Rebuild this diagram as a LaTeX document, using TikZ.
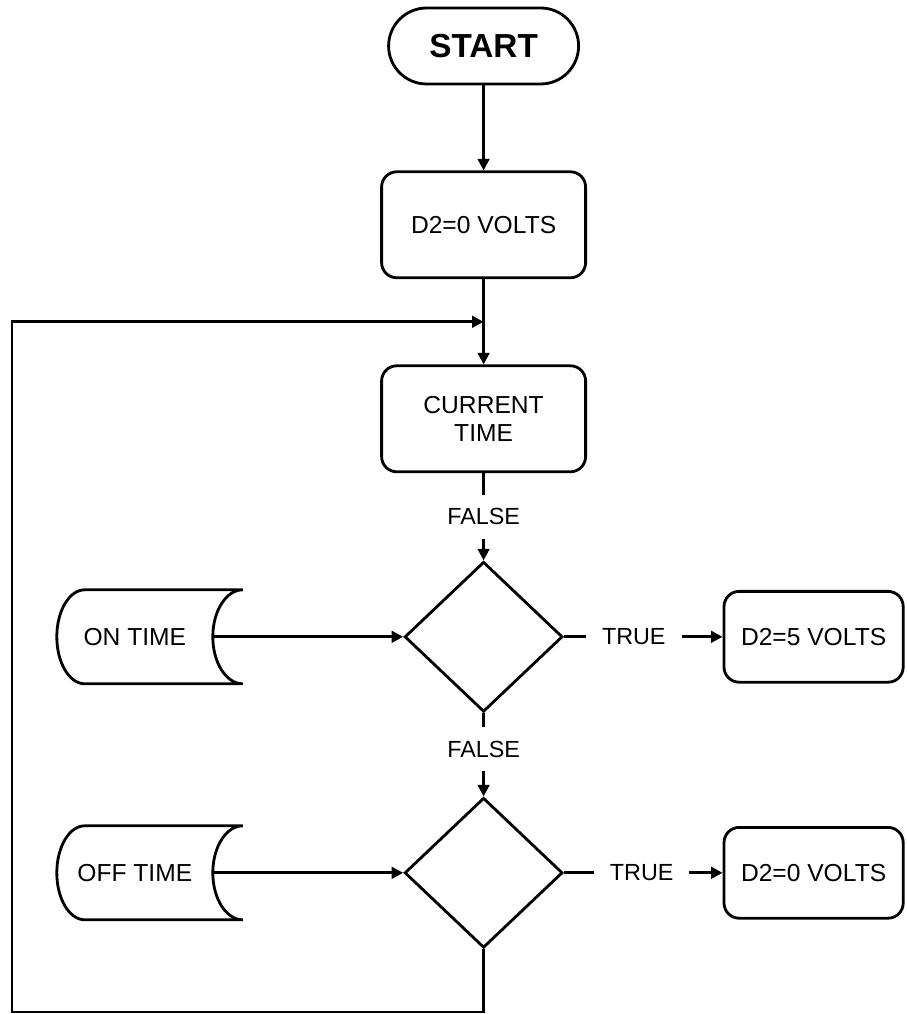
\documentclass[tikz,border=0pt]{standalone}
\usepackage{fontspec}
\setmainfont{Liberation Sans}
\usepackage{tikz}
\usetikzlibrary{arrows.meta,positioning,shapes.geometric,calc}

\tikzset{
  terminal/.style={draw, rounded corners=0.95cm, minimum width=4.75cm, minimum height=1.9cm,
    font=\bfseries\fontsize{23.7}{28}\selectfont},
  process/.style={draw, rounded corners=0.38cm, minimum width=5.1cm, minimum height=2.65cm, align=center},
  outbox/.style={process, minimum width=4.48cm, minimum height=2.27cm},
  decision/.style={draw, diamond, minimum width=3.95cm, minimum height=3.75cm, inner sep=0pt},
  storebox/.style={minimum width=3.9cm, minimum height=2.35cm, outer sep=0pt},
  lbl/.style={fill=white, inner xsep=0.4cm, inner ysep=0.35cm, font=\fontsize{16.6}{20}\selectfont}
}

\begin{document}
\begin{tikzpicture}[line width=2pt, >={Triangle[length=0.29cm,width=0.29cm]},
    font=\fontsize{17.5}{20}\selectfont]
  \useasboundingbox (0,0) rectangle (22.65,-25.35);

  \node (start) [terminal] at (12.09,-1.15) {START};
  \node (zero) [process, below of=start, node distance=4.47cm] {D2=0 VOLTS};
  \node (curtime) [process, below of=zero, node distance=4.85cm] {CURRENT\\TIME};
  \node (ondec) [decision, below of=curtime, node distance=5.45cm] {};
  \node (offdec) [decision, below of=ondec, node distance=5.9cm] {};
  \node (ontime) [storebox, left of=ondec, node distance=8.72cm] {ON TIME};
  \node (offtime) [storebox, left of=offdec, node distance=8.72cm] {OFF TIME};
  \node (five) [outbox, right of=ondec, node distance=8.25cm] {D2=5 VOLTS};
  \node (zero2) [outbox, right of=offdec, node distance=8.25cm] {D2=0 VOLTS};

  % stored data outlines
  \foreach \n in {ontime,offtime}
    \draw ([xshift=0.75cm]\n.north east) -- ([xshift=0.7cm]\n.north west)
      arc[start angle=90, end angle=270, x radius=0.7cm, y radius=1.175cm]
      -- ([xshift=0.75cm]\n.south east)
      arc[start angle=-90, end angle=-270, x radius=0.75cm, y radius=1.175cm];

  \coordinate (merge) at ($(zero.south)!0.5!(curtime.north)$);
  \coordinate (back) at (0.3,-25.3);

  \draw[->] (start) -- (zero);
  \draw[->] (zero) -- (curtime);
  \draw[->] (curtime) -- (ondec) node[lbl, midway] {FALSE};
  \draw[->] (ondec) -- (offdec) node[lbl, pos=0.43] {FALSE};
  \draw[->] (ontime) -- (ondec);
  \draw[->] (offtime) -- (offdec);
  \draw[->] (ondec) -- (five) node[lbl, pos=0.44] {TRUE};
  \draw[->] (offdec) -- (zero2) node[lbl, pos=0.49] {TRUE};

  % back to the time check
  \draw[->] (offdec.south) |- (back) |- (merge);
\end{tikzpicture}
\end{document}
